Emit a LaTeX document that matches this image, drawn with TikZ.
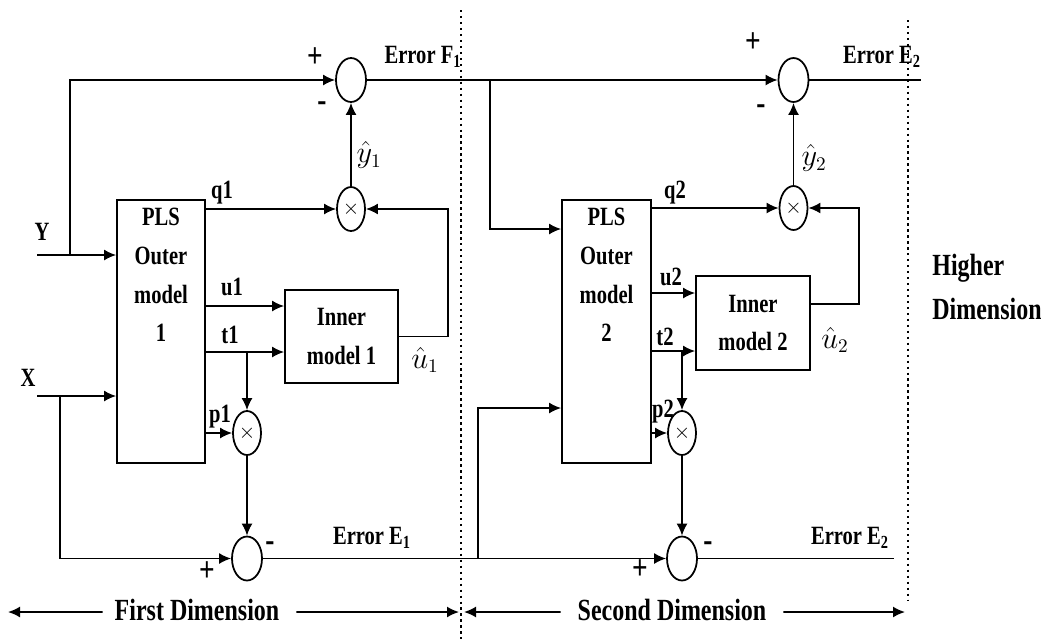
\documentclass[tikz,border=0pt]{standalone}
\usepackage{fontspec}
\newfontfamily\diagfont[FakeStretch=0.78]{Liberation Serif}
\usetikzlibrary{arrows.meta,positioning,shapes.geometric}

\begin{document}
\begin{tikzpicture}[
  sumnode/.style={draw, ellipse, minimum width=0.6cm, minimum height=0.88cm,
                  inner sep=0pt, line width=1pt},
  mulnode/.style={sumnode, minimum width=0.56cm, font=\large},
  blockbox/.style={draw, line width=1pt, inner sep=0pt},
  blocktext/.style={align=center, inner sep=0pt,
                    font=\diagfont\bfseries\fontsize{15}{22}\selectfont},
  sig/.style={-{Latex[length=2.4mm,width=2.2mm]}, line width=1pt},
  wire/.style={line width=1pt},
  lbl/.style={font=\diagfont\bfseries\fontsize{15}{18}\selectfont, inner sep=1pt},
  signlbl/.style={font=\diagfont\bfseries\fontsize{20}{22}\selectfont, inner sep=1pt},
  hatlbl/.style={font=\fontsize{16}{18}\selectfont, inner sep=1pt},
  dimlbl/.style={font=\diagfont\bfseries\fontsize{17.5}{25}\selectfont,
                 align=left, inner sep=1pt},
  bound/.style={dotted, line width=1.4pt}
]
  \path[use as bounding box] (0,0) rectangle (20.82,-12.78);

  % first dimension
  \node[blockbox, minimum width=1.76cm, minimum height=5.26cm] (PLSa) at (3.22,-6.63) {};
  \node[blocktext, below=0.18cm of PLSa.north] (PLSatext) {PLS\\Outer\\model\\1};
  \node[blockbox, blocktext, minimum width=2.26cm, minimum height=1.86cm] (InnA) at (6.83,-6.73) {Inner\\model 1};
  \node[sumnode] (SumFa) at (7.02,-1.6) {};
  \node[mulnode] (MulQa) at (7.02,-4.18) {$\times$};
  \node[mulnode] (MulPa) at (4.94,-8.66) {$\times$};
  \node[sumnode] (SumEa) at (4.94,-11.17) {};

  % second dimension
  \node[blockbox, minimum width=1.78cm, minimum height=5.26cm] (PLSb) at (12.13,-6.63) {};
  \node[blocktext, below=0.18cm of PLSb.north] (PLSbtext) {PLS\\Outer\\model\\2};
  \node[blockbox, blocktext, minimum width=2.28cm, minimum height=1.88cm] (InnB) at (15.06,-6.46) {Inner\\model 2};
  \node[sumnode] (SumFb) at (15.87,-1.6) {};
  \node[mulnode] (MulQb) at (15.87,-4.16) {$\times$};
  \node[mulnode] (MulPb) at (13.64,-8.66) {$\times$};
  \node[sumnode] (SumEb) at (13.64,-11.17) {};

  \coordinate (Yin) at (0.74,-5.1);
  \coordinate (Xin) at (0.74,-7.92);
  \coordinate (Yj) at (1.4,-5.1);
  \coordinate (Xj) at (1.2,-7.92);
  \coordinate (Fj) at (9.8,-1.6);
  \coordinate (Ej) at (9.56,-11.17);
  \coordinate (Fout) at (18.42,-1.6);
  \coordinate (Eout) at (17.88,-11.17);

  % inputs
  \draw[sig] (Yin) -- (PLSa.west |- Yin);
  \draw[sig] (Xin) -- (PLSa.west |- Xin);
  \draw[sig] (Yj) |- (SumFa.west);
  \draw[sig] (Xj) |- (SumEa.west);

  % block 1 signals
  \draw[sig] (PLSa.east |- MulQa) -- (MulQa.west);
  \draw[sig] (PLSa.east |- 0,-6.12) -- (InnA.west |- 0,-6.12);
  \draw[sig] (PLSa.east |- 0,-7.04) -- (InnA.west |- 0,-7.04);
  \draw[sig] (MulPa.north |- 0,-7.04) -- (MulPa.north);
  \draw[sig] (PLSa.east |- MulPa) -- (MulPa.west);
  \draw[sig] (MulPa.south) -- (SumEa.north);
  \draw[sig] (InnA.east) -- ++(0.98,0) |- (MulQa.east);
  \draw[sig] (MulQa.north) -- (SumFa.south);

  % links between dimensions
  \draw[wire] (SumFa.east) -- (Fj);
  \draw[sig] (Fj) -- (SumFb.west);
  \draw[sig] (Fj) |- (PLSb.west |- 0,-4.58);
  \draw[wire] (SumEa.east) -- (Ej);
  \draw[sig] (Ej) -- (SumEb.west);
  \draw[sig] (Ej) |- (PLSb.west |- 0,-8.16);
  \draw[wire] (SumFb.east) -- (Fout);
  \draw[wire] (SumEb.east) -- (Eout);

  % block 2 signals
  \draw[sig] (PLSb.east |- MulQb) -- (MulQb.west);
  \draw[sig] (PLSb.east |- 0,-5.86) -- (InnB.west |- 0,-5.86);
  \draw[sig] (PLSb.east |- 0,-7.02) -- (InnB.west |- 0,-7.02);
  \draw[sig] (MulPb.north |- 0,-7.02) -- (MulPb.north);
  \draw[sig] (PLSb.east |- MulPb) -- (MulPb.west);
  \draw[sig] (MulPb.south) -- (SumEb.north);
  \draw[sig] ([yshift=0.38cm]InnB.east) -- ++(0.96,0) |- (MulQb.east);
  \draw[sig] (MulQb.north) -- (SumFb.south);

  % labels
  \node[lbl] (Ylbl) at (0.84,-4.64) {Y};
  \node[lbl] (Xlbl) at (0.56,-7.56) {X};
  \node[lbl] (qa) at (4.44,-3.86) {q1};
  \node[lbl] (ua) at (4.64,-5.74) {u1};
  \node[lbl] (ta) at (4.6,-6.7) {t1};
  \node[lbl] (pa) at (4.4,-8.34) {p1};
  \node[lbl] (qb) at (13.5,-3.86) {q2};
  \node[lbl] (ub) at (13.42,-5.54) {u2};
  \node[lbl] (tb) at (13.3,-6.74) {t2};
  \node[lbl] (pb) at (13.26,-8.24) {p2};
  \node[hatlbl] (yha) at (7.38,-3.1) {$\hat{y}_1$};
  \node[hatlbl] (yhb) at (16.28,-3.16) {$\hat{y}_2$};
  \node[hatlbl] (uha) at (8.5,-7.2) {$\hat{u}_1$};
  \node[hatlbl] (uhb) at (16.7,-6.8) {$\hat{u}_2$};
  \node[lbl] (ErrFa) at (8.46,-1.14) {Error F\textsubscript{1}};
  \node[lbl] (ErrFb) at (17.64,-1.14) {Error E\textsubscript{2}};
  \node[lbl] (ErrEa) at (7.44,-10.76) {Error E\textsubscript{1}};
  \node[lbl] (ErrEb) at (17.0,-10.76) {Error E\textsubscript{2}};

  % signs
  \node[signlbl] (plFa) at (6.3,-1.16) {+};
  \node[signlbl] (miFa) at (6.44,-2.14) {-};
  \node[signlbl] (plFb) at (15.06,-0.86) {+};
  \node[signlbl] (miFb) at (15.22,-2.2) {-};
  \node[signlbl] (miEa) at (5.4,-10.94) {-};
  \node[signlbl] (plEa) at (4.14,-11.44) {+};
  \node[signlbl] (miEb) at (14.16,-10.94) {-};
  \node[signlbl] (plEb) at (12.8,-11.4) {+};

  % dimension marks
  \draw[bound] (9.22,-0.2) -- (9.22,-12.78);
  \draw[bound] (18.16,-0.4) -- (18.16,-12.0);
  \node[dimlbl] (HighDim) at (19.74,-5.74) {Higher\\Dimension};
  \node[dimlbl] (FirstDim) at (3.94,-12.2) {First Dimension};
  \node[dimlbl] (SecDim) at (13.44,-12.2) {Second Dimension};
  \draw[sig] (FirstDim.west) ++(-0.2,-0.04) -- (0.16,-12.24);
  \draw[sig] (FirstDim.east) ++(0.3,-0.04) -- (9.18,-12.24);
  \draw[sig] (SecDim.west) ++(-0.3,-0.04) -- (9.28,-12.24);
  \draw[sig] (SecDim.east) ++(0.3,-0.04) -- (18.1,-12.24);
\end{tikzpicture}
\end{document}
